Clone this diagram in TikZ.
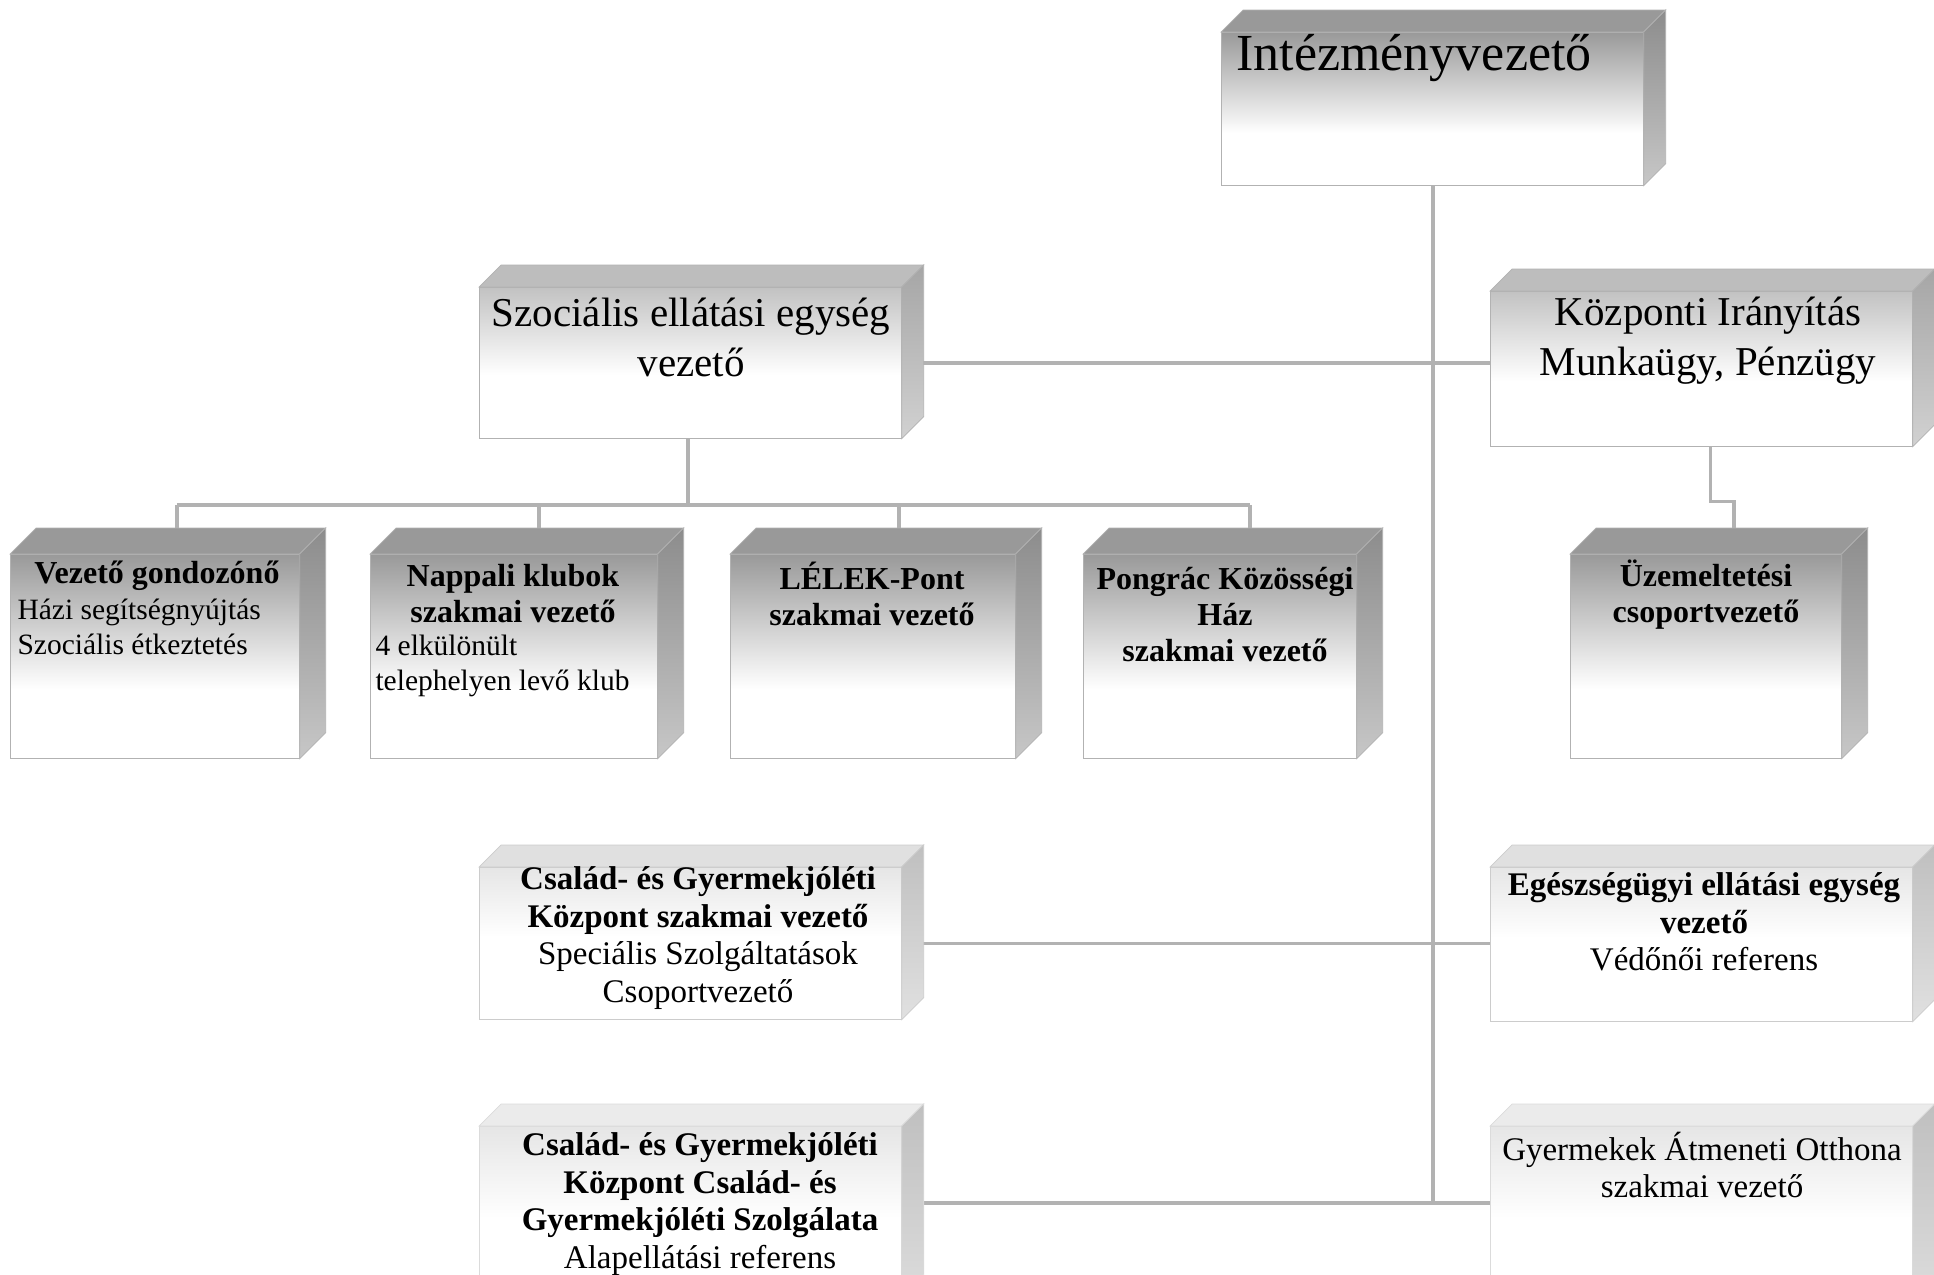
\documentclass[tikz,border=0pt]{standalone}
\usepackage{fontspec}
\setmainfont{Liberation Serif}
\usetikzlibrary{calc}

\pgfdeclareverticalshading{fadeA}{100bp}{color(0bp)=(white); color(25bp)=(white); color(42bp)=(white); color(75bp)=(black!40); color(100bp)=(black!40)}
\pgfdeclareverticalshading{fadeB}{100bp}{color(0bp)=(white); color(25bp)=(white); color(46bp)=(white); color(75bp)=(black!24); color(100bp)=(black!24)}
\pgfdeclareverticalshading{fadeC}{100bp}{color(0bp)=(white); color(25bp)=(white); color(52bp)=(white); color(75bp)=(black!10); color(100bp)=(black!10)}
\pgfdeclareverticalshading{sideA}{100bp}{color(0bp)=(black!22); color(25bp)=(black!22); color(75bp)=(black!45); color(100bp)=(black!45)}
\pgfdeclareverticalshading{sideB}{100bp}{color(0bp)=(black!18); color(25bp)=(black!18); color(75bp)=(black!35); color(100bp)=(black!35)}
\pgfdeclareverticalshading{sideC}{100bp}{color(0bp)=(black!12); color(25bp)=(black!12); color(75bp)=(black!25); color(100bp)=(black!25)}

\tikzset{
  front/.style={draw=black!30, line width=0.7pt, inner sep=0pt, anchor=north west, shade},
  conn/.style={draw=black!30, line width=3.5pt},
  ttl/.style={font=\fontsize{52}{60}\selectfont},
  big/.style={font=\fontsize{41}{50}\selectfont, align=center},
  hd/.style={font=\fontsize{32}{36}\selectfont\bfseries, align=center},
  bd/.style={font=\fontsize{29.5}{35}\selectfont, align=left, anchor=west},
  mix/.style={font=\fontsize{33}{37.5}\selectfont, align=center},
}

\begin{document}
\begin{tikzpicture}[x=1pt,y=-1pt]
\useasboundingbox (0,0) rectangle (1934,1274);
\clip (0,0) rectangle (1934,1274);
\fill[white] (0,0) rectangle (1934,1274);

% box front faces (nodes)
\node[front, shading=fadeA, minimum width=422pt, minimum height=153pt] (intez) at (1221,32) {};
\node[front, shading=fadeB, minimum width=422pt, minimum height=151pt] (szoc) at (479,287) {};
\node[front, shading=fadeB, minimum width=422pt, minimum height=155pt] (kozp) at (1490,291) {};
\node[front, shading=fadeA, minimum width=289pt, minimum height=204pt] (vez) at (10,554) {};
\node[front, shading=fadeA, minimum width=287pt, minimum height=204pt] (napp) at (370,554) {};
\node[front, shading=fadeA, minimum width=285pt, minimum height=204pt] (lelek) at (730,554) {};
\node[front, shading=fadeA, minimum width=273pt, minimum height=204pt] (pong) at (1083,554) {};
\node[front, shading=fadeA, minimum width=271pt, minimum height=204pt] (uzem) at (1570,554) {};
\node[front, shading=fadeC, minimum width=422pt, minimum height=152pt] (csal1) at (479,867) {};
\node[front, shading=fadeC, minimum width=422pt, minimum height=154pt] (eges) at (1490,867) {};
\node[front, shading=fadeC, minimum width=422pt, minimum height=200pt] (csal2) at (479,1126) {};
\node[front, shading=fadeC, minimum width=422pt, minimum height=200pt] (gyer) at (1490,1126) {};

% connectors
\coordinate (jbot) at (1433,1203);
\coordinate (bus) at (688,505);
\draw[conn] (intez.south -| jbot) -- (jbot);
\draw[conn] (csal2.east |- jbot) -- (gyer.west |- jbot);
\draw[conn] (szoc.east) -- (kozp.west |- szoc.east);
\draw[conn] (csal1.east) -- (eges.west |- csal1.east);
\draw[conn] (szoc.south -| bus) -- (bus);
\draw[conn] ([xshift=22pt]vez.north |- bus) -- ([xshift=30pt]pong.north |- bus);
\foreach \n/\s in {vez/22, napp/25, lelek/26, pong/30}
  \draw[conn] ([xshift=\s pt]\n.north |- bus) -- ([xshift=\s pt]\n.north);
\draw[conn] ([xshift=9pt]kozp.south) -- ++(0,55) -| ([xshift=28pt]uzem.north);

% redraw front faces over connectors
\foreach \n/\f/\b in {intez/A/30, szoc/B/30, kozp/B/30, vez/A/30, napp/A/30, lelek/A/30, pong/A/30, uzem/A/30, csal1/C/20, eges/C/20, csal2/C/14, gyer/C/14}
  \path[draw=black!\b, line width=0.7pt, shade, shading=fade\f] (\n.north west) rectangle (\n.south east);

% top and side faces
\foreach \n/\d/\f/\c/\b in {intez/22/A/40/30, szoc/22/B/26/30, kozp/22/B/26/30, vez/26/A/40/30, napp/26/A/40/30, lelek/26/A/40/30, pong/26/A/40/30, uzem/26/A/40/30, csal1/22/C/12/20, eges/22/C/12/20, csal2/22/C/8/14, gyer/22/C/8/14} {
  \path[fill=black!\c, draw=black!\b, line width=0.7pt]
    (\n.north west) -- ++(\d,-\d) -- ($(\n.north east)+(\d,-\d)$) -- (\n.north east) -- cycle;
  \path[shade, shading=side\f, draw=black!\b, line width=0.7pt]
    (\n.north east) -- ++(\d,-\d) -- ($(\n.south east)+(\d,-\d)$) -- (\n.south east) -- cycle;
}

% texts
\node[ttl] (tIntez) at (1414,58) {Intézményvezető};
\node[big] (tSzoc) at (691,337) {Szociális ellátási egység\\vezető};
\node[big] (tKozp) at (1708,341) {Központi Irányítás\\Munkaügy, Pénzügy};

\node[hd] (tVezH) at (157,576) {Vezető gondozónő};
\node[bd] (tVezB) at (14,627) {Házi segítségnyújtás\\Szociális étkeztetés};
\node[hd] (tNappH) at (513,594) {Nappali klubok\\szakmai vezető};
\node[bd] (tNappB) at (372,666) {4 elkülönült\\telephelyen levő klub};
\node[hd] (tLelek) at (872,594) {LÉLEK-Pont\\szakmai vezető};
\node[hd] (tPong) at (1225,615) {Pongrác Közösségi\\Ház\\szakmai vezető};
\node[hd] (tUzem) at (1706,595) {Üzemeltetési\\csoportvezető};

\node[mix] (tCsal1) at (698,938) {\textbf{Család- és Gyermekjóléti}\\\textbf{Központ szakmai vezető}\\Speciális Szolgáltatások\\Csoportvezető};
\node[mix] (tEges) at (1704,922) {\textbf{Egészségügyi ellátási egység}\\\textbf{vezető}\\Védőnői referens};
\node[mix] (tCsal2) at (700,1204) {\textbf{Család- és Gyermekjóléti}\\\textbf{Központ Család- és}\\\textbf{Gyermekjóléti Szolgálata}\\Alapellátási referens};
\node[mix] (tGyer) at (1702,1165) {Gyermekek Átmeneti Otthona\\szakmai vezető};
\end{tikzpicture}
\end{document}
